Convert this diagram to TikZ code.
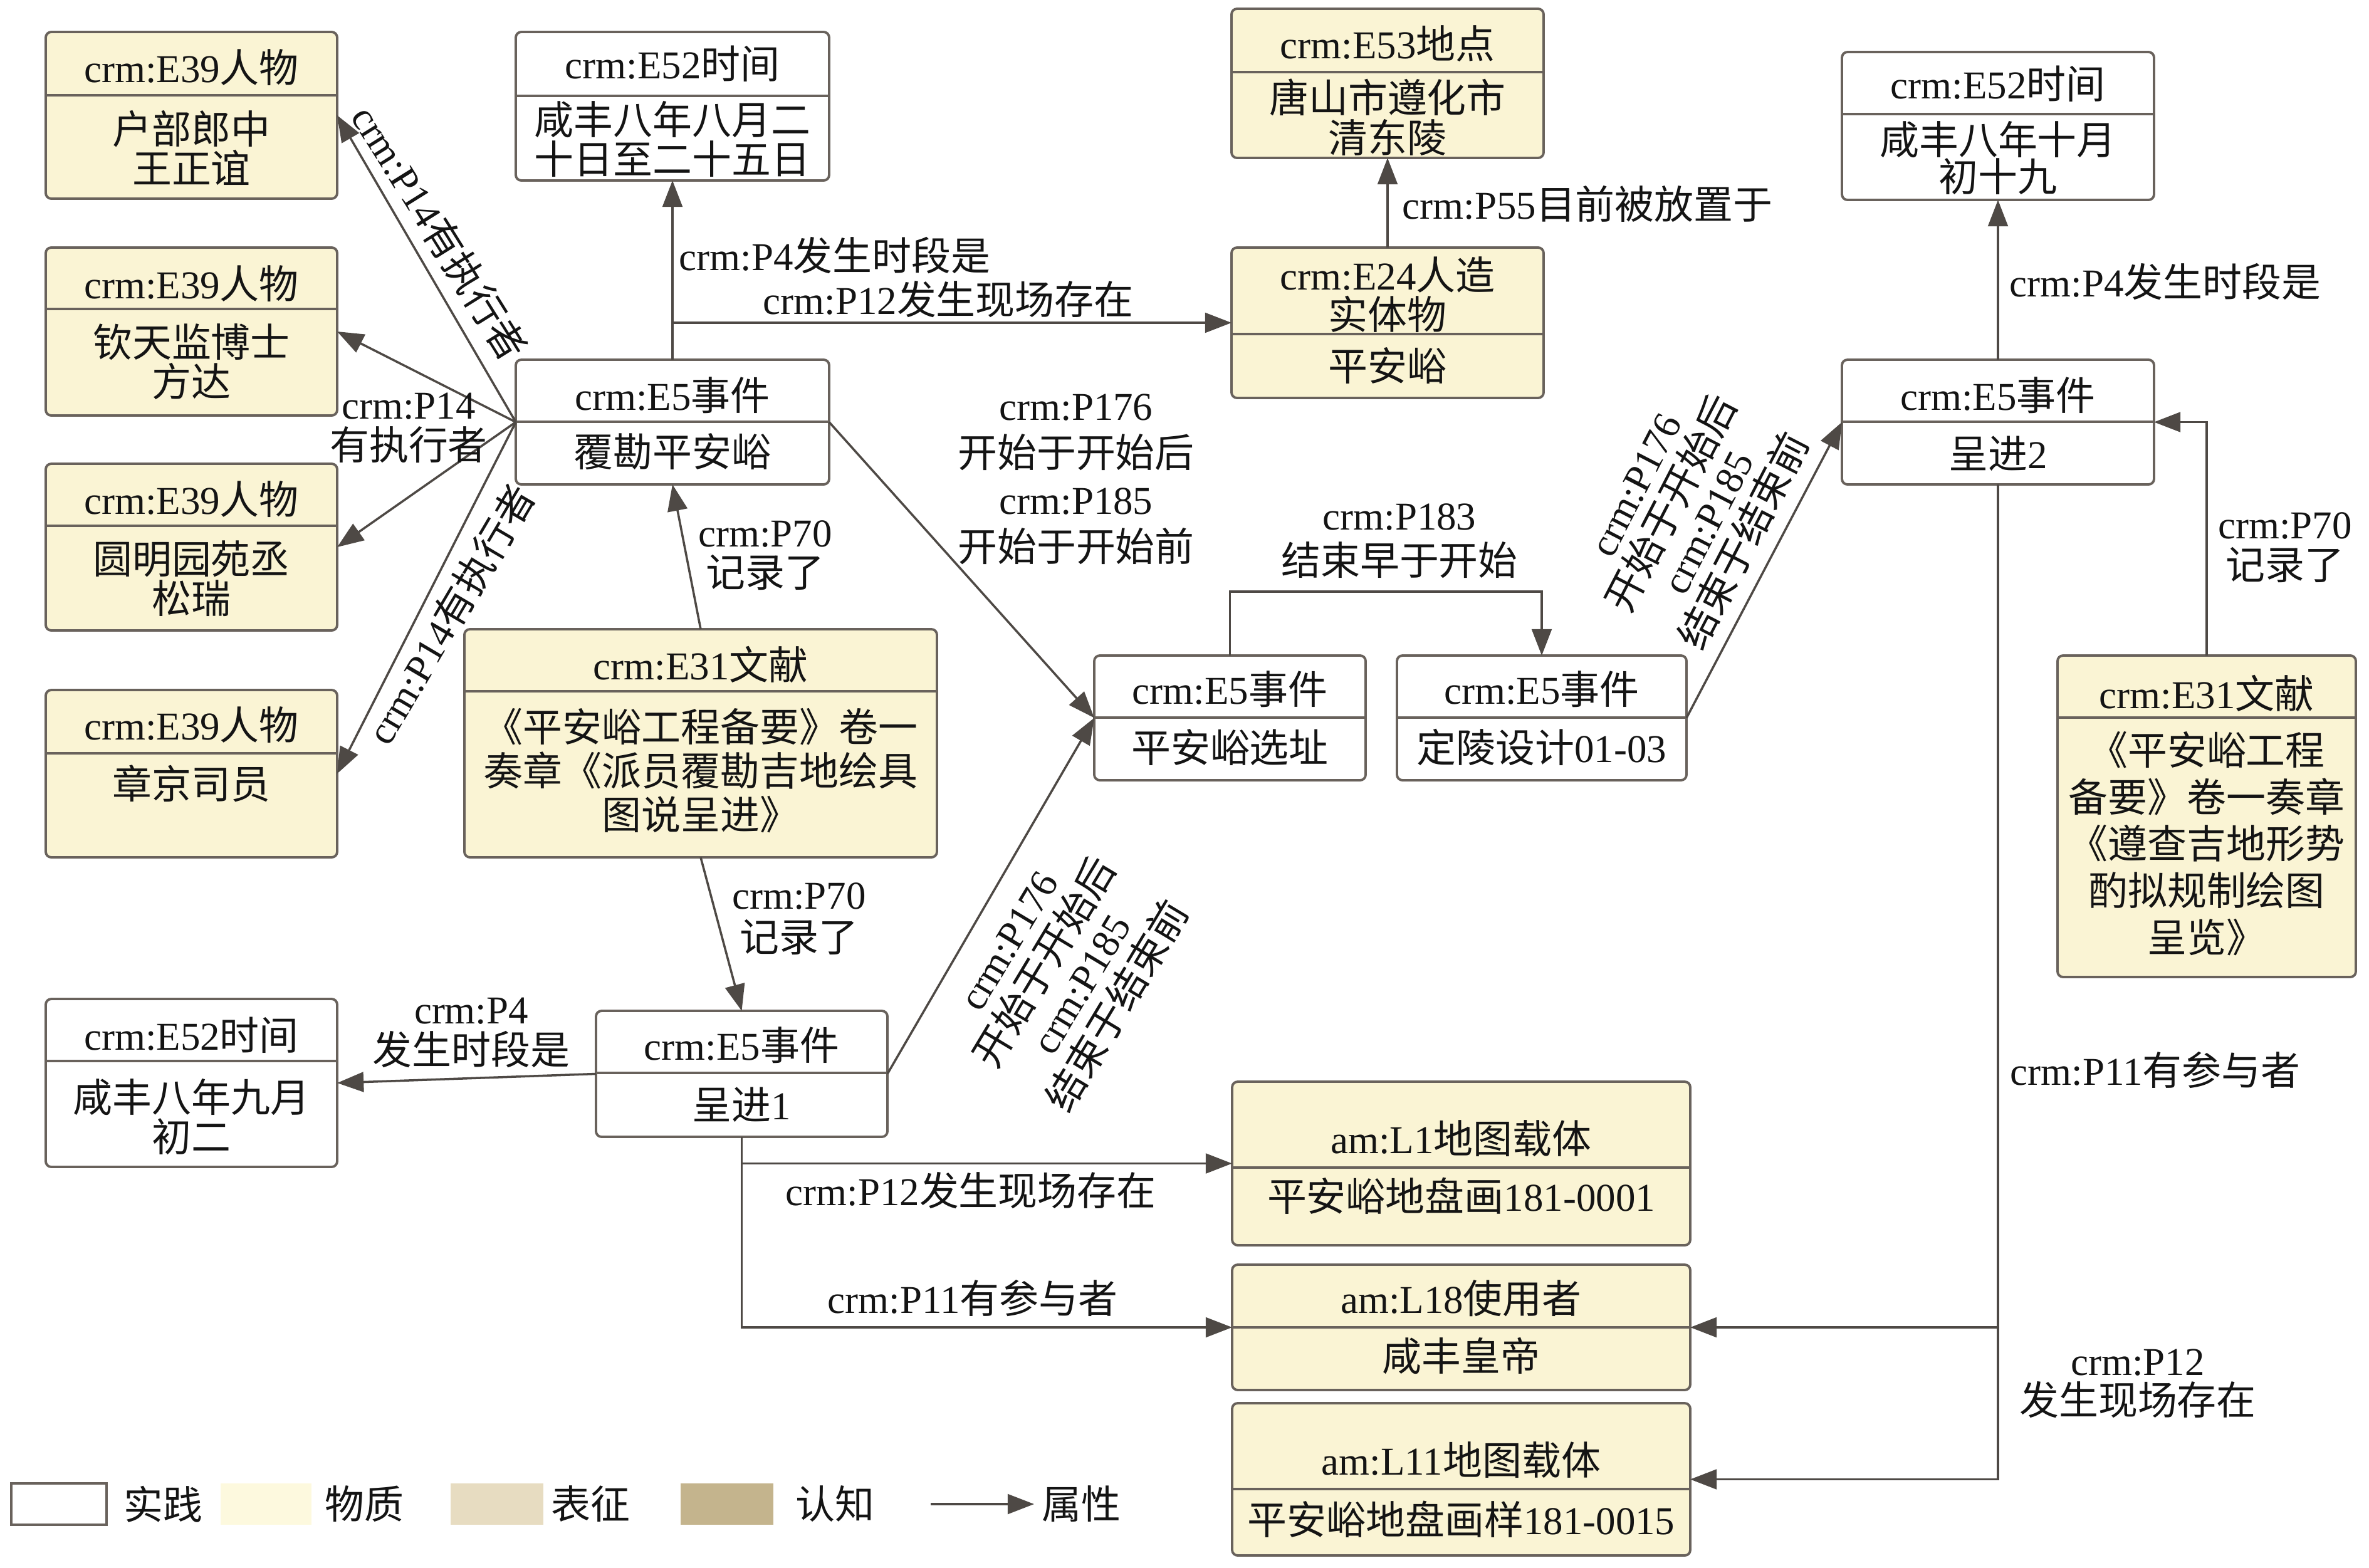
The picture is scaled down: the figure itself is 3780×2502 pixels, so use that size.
\documentclass[tikz,border=0pt]{standalone}
\usepackage{fontspec}
\setmainfont{Noto Sans CJK SC}
\newfontfamily\latinf{Liberation Serif}
\newcommand\lt[1]{{\latinf #1}}
\usetikzlibrary{arrows.meta}
\definecolor{boxfill}{RGB}{250,244,212}
\definecolor{legA}{RGB}{253,249,222}
\definecolor{legB}{RGB}{231,220,193}
\definecolor{legC}{RGB}{196,180,141}
\definecolor{bordercol}{RGB}{105,98,92}
\definecolor{linecol}{RGB}{78,73,69}
\definecolor{txtcol}{RGB}{20,20,20}
\tikzset{
  ubox/.style={draw=bordercol, line width=1.1pt, rounded corners=2.5pt, inner sep=0pt, outer sep=0pt},
  divl/.style={draw=bordercol, line width=1.1pt},
  txt/.style={inner sep=0pt, align=center, text=txtcol, font=\fontsize{17.9}{#1}\selectfont},
  txt/.default=18pt,
  conn/.style={draw=linecol, line width=1pt, -{Triangle[length=12pt,width=9pt]}},
}
% name, x1, y1, x2, y2, ydiv, fill
\newcommand\ubox[7]{%
  \node[ubox, fill=#7, minimum width={(#4-#2)*0.01cm}, minimum height={(#5-#3)*0.01cm}] (#1) at ({(#2+#4)/2},{(#3+#5)/2}) {};
  \draw[divl] (#2,#6) -- (#4,#6);
}
\begin{document}
\lineskiplimit=-30pt
\begin{tikzpicture}[x=0.01cm,y=-0.01cm]
\fill[white] (0,0) rectangle (3780,2502);
\useasboundingbox (0,0) rectangle (3780,2502);

% ---------- boxes ----------
\ubox{p1}{73}{51}{538}{317}{152}{boxfill}
\node[txt] (p1h) at (305.5,108) {\lt{crm:E39}人物};
\node[txt] (p1b) at (305.5,236) {户部郎中\\王正谊};

\ubox{p2}{73}{395}{538}{663}{493}{boxfill}
\node[txt] (p2h) at (305.5,453) {\lt{crm:E39}人物};
\node[txt] (p2b) at (305.5,577) {钦天监博士\\方达};

\ubox{p3}{73}{740}{538}{1006}{839}{boxfill}
\node[txt] (p3h) at (305.5,797) {\lt{crm:E39}人物};
\node[txt] (p3b) at (305.5,923) {圆明园苑丞\\松瑞};

\ubox{p4}{73}{1101}{538}{1368}{1202}{boxfill}
\node[txt] (p4h) at (305.5,1157) {\lt{crm:E39}人物};
\node[txt] (p4b) at (305.5,1250) {章京司员};

\ubox{t1}{823}{51}{1323}{288}{153}{white}
\node[txt] (t1h) at (1073,102) {\lt{crm:E52}时间};
\node[txt] (t1b) at (1073,222) {咸丰八年八月二\\十日至二十五日};

\ubox{e1}{823}{574}{1323}{773}{673}{white}
\node[txt] (e1h) at (1073,631) {\lt{crm:E5}事件};
\node[txt] (e1b) at (1073,721) {覆勘平安峪};

\ubox{d1}{741}{1004}{1495}{1368}{1103}{boxfill}
\node[txt] (d1h) at (1118,1060) {\lt{crm:E31}文献};
\node[txt=19.9pt] (d1b) at (1118,1230) {《平安峪工程备要》卷一\\奏章《派员覆勘吉地绘具\\图说呈进》};

\ubox{t2}{73}{1594}{538}{1862}{1693}{white}
\node[txt] (t2h) at (305.5,1652) {\lt{crm:E52}时间};
\node[txt] (t2b) at (305.5,1782) {咸丰八年九月\\初二};

\ubox{e2}{951}{1613}{1416}{1814}{1712}{white}
\node[txt] (e2h) at (1183.5,1668) {\lt{crm:E5}事件};
\node[txt] (e2b) at (1183.5,1763) {呈进\lt{1}};

\ubox{pl}{1965}{14}{2463}{252}{115}{boxfill}
\node[txt] (plh) at (2214,70) {\lt{crm:E53}地点};
\node[txt] (plb) at (2214,187) {唐山市遵化市\\清东陵};

\ubox{ar}{1965}{395}{2463}{635}{533}{boxfill}
\node[txt] (arh) at (2214,470) {\lt{crm:E24}人造\\实体物};
\node[txt] (arb) at (2214,584) {平安峪};

\ubox{e3}{1746}{1046}{2179}{1245}{1145}{white}
\node[txt] (e3h) at (1962.5,1100) {\lt{crm:E5}事件};
\node[txt] (e3b) at (1962.5,1192) {平安峪选址};

\ubox{e4}{2229}{1046}{2691}{1245}{1145}{white}
\node[txt] (e4h) at (2460,1100) {\lt{crm:E5}事件};
\node[txt] (e4b) at (2460,1192) {定陵设计\lt{01-03}};

\ubox{t3}{2939}{83}{3437}{319}{182}{white}
\node[txt] (t3h) at (3188,134) {\lt{crm:E52}时间};
\node[txt=16.8pt] (t3b) at (3188,252) {咸丰八年十月\\初十九};

\ubox{e5}{2939}{574}{3437}{773}{673}{white}
\node[txt] (e5h) at (3188,631) {\lt{crm:E5}事件};
\node[txt] (e5b) at (3188,724) {呈进\lt{2}};

\ubox{d2}{3283}{1046}{3759}{1559}{1145}{boxfill}
\node[txt] (d2h) at (3521,1106) {\lt{crm:E31}文献};
\node[txt=21.3pt] (d2b) at (3521,1346) {《平安峪工程\\备要》卷一奏章\\《遵查吉地形势\\酌拟规制绘图\\呈览》};

\ubox{L1}{1966}{1726}{2697}{1987}{1863}{boxfill}
\node[txt] (L1h) at (2331.5,1817) {\lt{am:L1}地图载体};
\node[txt] (L1b) at (2331.5,1908) {平安峪地盘画\lt{181-0001}};

\ubox{L18}{1966}{2018}{2697}{2218}{2118}{boxfill}
\node[txt] (L18h) at (2331.5,2072) {\lt{am:L18}使用者};
\node[txt] (L18b) at (2331.5,2163) {咸丰皇帝};

\ubox{L11}{1966}{2239}{2697}{2482}{2376}{boxfill}
\node[txt] (L11h) at (2331.5,2330) {\lt{am:L11}地图载体};
\node[txt] (L11b) at (2331.5,2424) {平安峪地盘画样\lt{181-0015}};

% ---------- connectors ----------
\draw[conn] (e1.west) -- (p1.east);
\draw[conn] (e1.west) -- (p2.east);
\draw[conn] (e1.west) -- (p3.east);
\draw[conn] (e1.west) -- (p4.east);
\draw[conn] (e1.north) -- (t1.south);
\coordinate (b1) at (e1.north |- ar.west);
\draw[conn] (b1) -- (ar.west);
\draw[conn] (ar.north) -- (pl.south);
\draw[conn] (e1.east) -- (e3.west);
\draw[conn] (e2.east) -- (e3.west);
\coordinate (c183) at (2211,944);
\draw[conn] (e3.north) |- (c183) -| (e4.north);
\draw[conn] (e4.east) -- (e5.west);
\draw[conn] (e5.north) -- (t3.south);
\draw[conn] (d2.north) |- (e5.east);
\draw[conn] (e5.south) |- (L18.east);
\draw[conn] (e5.south) |- (L11.east);
\draw[conn] (d1.north) -- (e1.south);
\draw[conn] (d1.south) -- (e2.north);
\draw[conn] (e2.west) -- (t2.east);
\draw[conn] (e2.south) |- (L1.west);
\draw[conn] (e2.south) |- (L18.west);

% ---------- labels ----------
\node[txt, rotate=-58] (lbA) at (702,371) {\lt{crm:P14}有执行者};
\node[txt=18.5pt] (lbB) at (652,683) {\lt{crm:P14}\\有执行者};
\node[txt, rotate=59.5] (lbC) at (718,980) {\lt{crm:P14}有执行者};
\node[txt, anchor=west] (lbD) at (1083,408) {\lt{crm:P4}发生时段是};
\node[txt, anchor=west] (lbE) at (1217,478) {\lt{crm:P12}发生现场存在};
\node[txt, anchor=west] (lbF) at (2237,325) {\lt{crm:P55}目前被放置于};
\node[txt=21.3pt] (lbG) at (1717,765) {\lt{crm:P176}\\开始于开始后\\\lt{crm:P185}\\开始于开始前};
\node[txt] (lbH) at (1221,886) {\lt{crm:P70}\\记录了};
\node[txt=20.5pt] (lbI) at (2233,863) {\lt{crm:P183}\\结束早于开始};
\node[txt=18.5pt, rotate=62.7] (lbJ) at (2699,820) {\lt{crm:P176}\\开始于开始后\\\lt{crm:P185}\\结束于结束前};
\node[txt, anchor=west] (lbK) at (3206,450) {\lt{crm:P4}发生时段是};
\node[txt=18.5pt] (lbL) at (3646,874) {\lt{crm:P70}\\记录了};
\node[txt=19.3pt, rotate=59] (lbM) at (1699,1555) {\lt{crm:P176}\\开始于开始后\\\lt{crm:P185}\\结束于结束前};
\node[txt=19.3pt] (lbN) at (1275,1466) {\lt{crm:P70}\\记录了};
\node[txt=18.5pt] (lbO) at (752,1648) {\lt{crm:P4}\\发生时段是};
\node[txt, anchor=west] (lbP) at (1253,1900) {\lt{crm:P12}发生现场存在};
\node[txt, anchor=west] (lbQ) at (1320,2071) {\lt{crm:P11}有参与者};
\node[txt, anchor=west] (lbR) at (3207,1707) {\lt{crm:P11}有参与者};
\node[txt] (lbS) at (3411,2208) {\lt{crm:P12}\\发生现场存在};

% ---------- legend ----------
\node[draw=bordercol, line width=1.1pt, inner sep=0pt, minimum width=152*0.01cm, minimum height=66*0.01cm] (lg1) at (94,2400) {};
\node[txt] (lg1t) at (260,2400) {实践};
\node[fill=legA, inner sep=0pt, minimum width=145*0.01cm, minimum height=66*0.01cm] (lg2) at (424.5,2400) {};
\node[txt] (lg2t) at (581,2400) {物质};
\node[fill=legB, inner sep=0pt, minimum width=148*0.01cm, minimum height=66*0.01cm] (lg3) at (793,2400) {};
\node[txt] (lg3t) at (942,2400) {表征};
\node[fill=legC, inner sep=0pt, minimum width=148*0.01cm, minimum height=66*0.01cm] (lg4) at (1160,2400) {};
\node[txt] (lg4t) at (1332,2400) {认知};
\coordinate (la) at (1485,2400);
\coordinate (lb) at (1650,2400);
\draw[conn] (la) -- (lb);
\node[txt] (lg5t) at (1725,2400) {属性};
\end{tikzpicture}
\end{document}
